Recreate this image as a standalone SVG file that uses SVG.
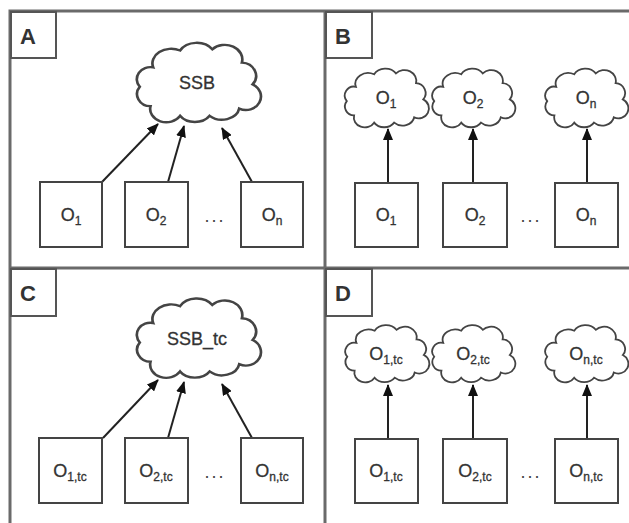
<svg xmlns="http://www.w3.org/2000/svg" width="629" height="523" viewBox="0 0 629 523">
<style>
.frame{fill:none;stroke:#6a6a6a;stroke-width:3}
.lbl{fill:#fff;stroke:#555;stroke-width:2}
.lt{font-family:"Liberation Sans",Arial,sans-serif;font-weight:bold;font-size:22px;fill:#333}
.box{fill:#fff;stroke:#444;stroke-width:2}
.cloud{fill:#fff;stroke:#444;stroke-width:2}
.t{font-family:"Liberation Sans",Arial,sans-serif;font-size:18px;fill:#333;text-anchor:middle;stroke:#333;stroke-width:0.3}
.sub{font-size:12px}
.dots{font-family:"Liberation Sans",Arial,sans-serif;font-size:18px;fill:#444;text-anchor:middle;letter-spacing:2px}
.con{stroke:#222;stroke-width:2;fill:none;marker-end:url(#ah)}
</style>
<defs>
<marker id="ah" markerWidth="12" markerHeight="10" refX="11" refY="5" orient="auto" markerUnits="userSpaceOnUse">
<path d="M0,0 L12,5 L0,10 Z" fill="#111"/>
</marker>
<path id="cl" d="M18,24 A14 12 0 0 1 38,10 A14 12 0 0 1 62,9 A13 12 0 0 1 84,20 A11 11 0 0 1 92,38 A11 11 0 0 1 82,58 A13 11 0 0 1 60,64 A13 11 0 0 1 38,64 A12 11 0 0 1 16,56 A10 10 0 0 1 8,40 A10 10 0 0 1 18,24 Z"/>
</defs>
<rect width="629" height="523" fill="#fff"/>
<g id="frame">
<path class="frame" d="M10,523 V11 H629 M325,11 V523 M10,268 H629"/>
</g>
<g id="labels">
<rect class="lbl" x="11" y="12" width="45" height="46"/><text class="lt" x="20" y="44">A</text>
<rect class="lbl" x="326" y="12" width="46" height="46"/><text class="lt" x="335" y="44">B</text>
<rect class="lbl" x="11" y="269" width="45" height="47"/><text class="lt" x="20" y="301">C</text>
<rect class="lbl" x="326" y="269" width="46" height="47"/><text class="lt" x="335" y="301">D</text>
</g>
<g id="connectors">
<line class="con" x1="102" y1="182" x2="158" y2="124"/>
<line class="con" x1="168" y1="182" x2="184" y2="126"/>
<line class="con" x1="252" y1="182" x2="222" y2="128"/>
<line class="con" x1="388" y1="183" x2="388" y2="129"/>
<line class="con" x1="473" y1="183" x2="473" y2="129"/>
<line class="con" x1="587" y1="183" x2="587" y2="129"/>
<line class="con" x1="103" y1="438" x2="158" y2="380"/>
<line class="con" x1="168" y1="438" x2="184" y2="382"/>
<line class="con" x1="252" y1="438" x2="222" y2="384"/>
<line class="con" x1="388" y1="439" x2="388" y2="385"/>
<line class="con" x1="473" y1="439" x2="473" y2="385"/>
<line class="con" x1="587" y1="439" x2="587" y2="385"/>
</g>
<!-- Panel A -->
<g id="A_ssb"><use href="#cl" class="cloud" transform="translate(129 38.4) scale(1.344 1.21)" style="vector-effect:non-scaling-stroke"/><text class="t" x="197" y="89">SSB</text></g>
<g id="A_o1"><rect class="box" x="40" y="182" width="62" height="65"/><text class="t" x="71" y="221">O<tspan class="sub" dy="4">1</tspan></text></g>
<g id="A_o2"><rect class="box" x="125" y="182" width="63" height="65"/><text class="t" x="156" y="221">O<tspan class="sub" dy="4">2</tspan></text></g>
<g id="A_dots"><text class="dots" x="215" y="222">...</text></g>
<g id="A_on"><rect class="box" x="241" y="182" width="62" height="65"/><text class="t" x="272" y="221">O<tspan class="sub" dy="4">n</tspan></text></g>
<!-- Panel B -->
<g id="B_c1"><use href="#cl" class="cloud" transform="translate(339.5 65.3) scale(0.911 0.896)" style="vector-effect:non-scaling-stroke"/><text class="t" x="386" y="104">O<tspan class="sub" dy="4">1</tspan></text></g>
<g id="B_c2"><use href="#cl" class="cloud" transform="translate(427 65.3) scale(0.9 0.896)" style="vector-effect:non-scaling-stroke"/><text class="t" x="473" y="104">O<tspan class="sub" dy="4">2</tspan></text></g>
<g id="B_cn"><use href="#cl" class="cloud" transform="translate(540 65.3) scale(0.9 0.896)" style="vector-effect:non-scaling-stroke"/><text class="t" x="586" y="104">O<tspan class="sub" dy="4">n</tspan></text></g>
<g id="B_o1"><rect class="box" x="355" y="183" width="63" height="64"/><text class="t" x="386" y="221">O<tspan class="sub" dy="4">1</tspan></text></g>
<g id="B_o2"><rect class="box" x="443" y="183" width="64" height="64"/><text class="t" x="475" y="221">O<tspan class="sub" dy="4">2</tspan></text></g>
<g id="B_dots"><text class="dots" x="531" y="222">...</text></g>
<g id="B_on"><rect class="box" x="555" y="183" width="63" height="64"/><text class="t" x="586" y="221">O<tspan class="sub" dy="4">n</tspan></text></g>
<!-- Panel C -->
<g id="C_ssb"><use href="#cl" class="cloud" transform="translate(129 294) scale(1.344 1.21)" style="vector-effect:non-scaling-stroke"/><text class="t" x="197" y="345">SSB_tc</text></g>
<g id="C_o1"><rect class="box" x="39" y="438" width="63" height="65"/><text class="t" x="70" y="477">O<tspan class="sub" dy="4">1,tc</tspan></text></g>
<g id="C_o2"><rect class="box" x="125" y="438" width="63" height="65"/><text class="t" x="156" y="477">O<tspan class="sub" dy="4">2,tc</tspan></text></g>
<g id="C_dots"><text class="dots" x="215" y="478">...</text></g>
<g id="C_on"><rect class="box" x="241" y="438" width="62" height="65"/><text class="t" x="272" y="477">O<tspan class="sub" dy="4">n,tc</tspan></text></g>
<!-- Panel D -->
<g id="D_c1"><use href="#cl" class="cloud" transform="translate(340 322) scale(0.911 0.87)" style="vector-effect:non-scaling-stroke"/><text class="t" x="386" y="360">O<tspan class="sub" dy="4">1,tc</tspan></text></g>
<g id="D_c2"><use href="#cl" class="cloud" transform="translate(427 322) scale(0.9 0.87)" style="vector-effect:non-scaling-stroke"/><text class="t" x="473" y="360">O<tspan class="sub" dy="4">2,tc</tspan></text></g>
<g id="D_cn"><use href="#cl" class="cloud" transform="translate(540 322) scale(0.9 0.87)" style="vector-effect:non-scaling-stroke"/><text class="t" x="586" y="360">O<tspan class="sub" dy="4">n,tc</tspan></text></g>
<g id="D_o1"><rect class="box" x="355" y="439" width="63" height="64"/><text class="t" x="386" y="477">O<tspan class="sub" dy="4">1,tc</tspan></text></g>
<g id="D_o2"><rect class="box" x="443" y="439" width="64" height="64"/><text class="t" x="475" y="477">O<tspan class="sub" dy="4">2,tc</tspan></text></g>
<g id="D_dots"><text class="dots" x="531" y="478">...</text></g>
<g id="D_on"><rect class="box" x="555" y="439" width="63" height="64"/><text class="t" x="586" y="477">O<tspan class="sub" dy="4">n,tc</tspan></text></g>
</svg>
